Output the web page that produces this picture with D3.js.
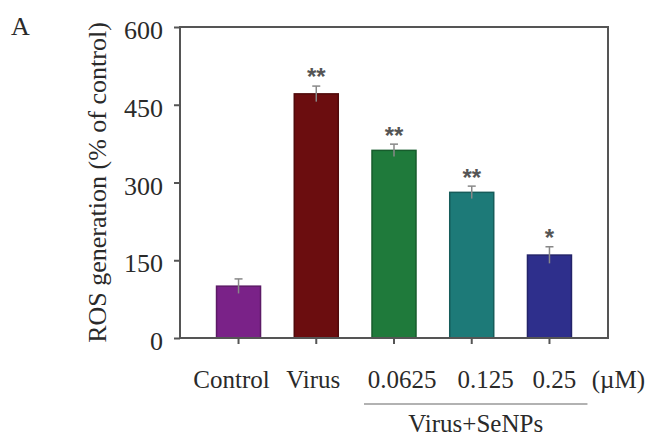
<!DOCTYPE html>
<html>
<head>
<meta charset="utf-8">
<script src="https://cdn.jsdelivr.net/npm/d3@7"></script>
<style>
  body { margin: 0; background: #fff; }
  svg { display: block; font-family: "Liberation Serif", "Times New Roman", serif; }
</style>
</head>
<body>
<div id="chart"></div>
<script>
// data
const groups = ['Control', 'Virus', '0.0625', '0.125', '0.25'];
const rosValues = [100, 471, 362, 281, 160];
const rosErrors = [14, 15, 12, 12, 16];
const significance = ['', '**', '**', '**', '*'];
const yTicks = [0, 150, 300, 450, 600];
const barColors = ['#7a2288', '#6b0d0f', '#1f7a3b', '#1d7a78', '#2e2f8c'];

const width = 648;
const height = 440;
const marginTop = 27;
const marginRight = 40;
const marginBottom = 102;
const marginLeft = 180;

// small nudges so labels sit like in the original
const labelNudge = { 'Control': -7, 'Virus': -3, '0.0625': 8, '0.125': 14, '0.25': 5 };

const svg = d3.select('#chart')
  .append('svg')
  .attr('width', width)
  .attr('height', height)
  .attr('viewBox', `0 0 ${width} ${height}`);

const x = d3.scaleBand()
  .domain(groups)
  .range([marginLeft, width - marginRight])
  .paddingInner(0.434)
  .paddingOuter(0.47);

const y = d3.scaleLinear()
  .domain([0, 600])
  .range([height - marginBottom, marginTop]);

const axisColor = '#555';
const textColor = '#2a2a2a';

// bars
svg.append('g')
  .selectAll('rect')
  .data(groups)
  .join('rect')
  .attr('x', d => x(d))
  .attr('y', (d, i) => y(rosValues[i]))
  .attr('width', x.bandwidth())
  .attr('height', (d, i) => y(0) - y(rosValues[i]))
  .attr('fill', (d, i) => barColors[i])
  .attr('stroke', (d, i) => d3.color(barColors[i]).darker(0.8))
  .attr('stroke-width', 1.5);

// error bars (upper)
const err = svg.append('g')
  .attr('stroke', '#888')
  .attr('stroke-width', 1.5);

err.selectAll('line.v')
  .data(groups)
  .join('line')
  .attr('class', 'v')
  .attr('x1', d => x(d) + x.bandwidth() / 2)
  .attr('x2', d => x(d) + x.bandwidth() / 2)
  .attr('y1', (d, i) => y(rosValues[i] - rosErrors[i]))
  .attr('y2', (d, i) => y(rosValues[i] + rosErrors[i]));

err.selectAll('line.cap')
  .data(groups)
  .join('line')
  .attr('class', 'cap')
  .attr('x1', d => x(d) + x.bandwidth() / 2 - 4)
  .attr('x2', d => x(d) + x.bandwidth() / 2 + 4)
  .attr('y1', (d, i) => y(rosValues[i] + rosErrors[i]))
  .attr('y2', (d, i) => y(rosValues[i] + rosErrors[i]));

// significance stars
svg.append('g')
  .selectAll('text')
  .data(groups)
  .join('text')
  .attr('x', d => x(d) + x.bandwidth() / 2)
  .attr('y', (d, i) => y(rosValues[i] + rosErrors[i]) - 3)
  .attr('text-anchor', 'middle')
  .attr('font-family', '"Liberation Sans", Arial, sans-serif')
  .attr('font-weight', 'bold')
  .attr('font-size', 24)
  .attr('fill', '#555')
  .attr('dy', '0.1em')
  .text((d, i) => significance[i]);

// frame
svg.append('rect')
  .attr('x', marginLeft)
  .attr('y', marginTop)
  .attr('width', width - marginLeft - marginRight)
  .attr('height', height - marginTop - marginBottom)
  .attr('fill', 'none')
  .attr('stroke', axisColor)
  .attr('stroke-width', 2);

// y axis
svg.append('g')
  .attr('transform', `translate(${marginLeft},0)`)
  .call(d3.axisLeft(y).tickValues(yTicks).tickSize(6).tickSizeOuter(0).tickPadding(11))
  .call(g => g.select('.domain').remove())
  .call(g => g.selectAll('.tick line').attr('stroke', axisColor).attr('stroke-width', 2))
  .call(g => g.selectAll('.tick text')
    .attr('font-family', '"Liberation Serif", "Times New Roman", serif')
    .attr('font-size', 26)
    .attr('fill', textColor)
    .attr('dy', '0.45em'));

// x axis
svg.append('g')
  .attr('transform', `translate(0,${height - marginBottom})`)
  .call(d3.axisBottom(x).tickSize(6).tickSizeOuter(0))
  .call(g => g.select('.domain').remove())
  .call(g => g.selectAll('.tick line').attr('stroke', axisColor).attr('stroke-width', 2))
  .call(g => g.selectAll('.tick text')
    .attr('font-family', '"Liberation Serif", "Times New Roman", serif')
    .attr('font-size', 25)
    .attr('fill', textColor)
    .attr('y', 50)
    .attr('dy', 0)
    .attr('dx', d => labelNudge[d] || 0));

// unit label
svg.append('text')
  .attr('x', width - 3)
  .attr('y', height - marginBottom + 50)
  .attr('text-anchor', 'end')
  .attr('font-size', 25)
  .attr('fill', textColor)
  .text('(\u00b5M)');

// group bracket for Virus+SeNPs
const gx0 = x('0.0625') - 8;
const gx1 = x('0.25') + x.bandwidth() + 16;
svg.append('line')
  .attr('x1', gx0)
  .attr('x2', gx1)
  .attr('y1', height - marginBottom + 66)
  .attr('y2', height - marginBottom + 66)
  .attr('stroke', '#999')
  .attr('stroke-width', 1.5);

svg.append('text')
  .attr('x', (gx0 + gx1) / 2)
  .attr('y', height - marginBottom + 94)
  .attr('text-anchor', 'middle')
  .attr('font-size', 25)
  .attr('fill', textColor)
  .text('Virus+SeNPs');

// y label
svg.append('text')
  .attr('transform', `translate(97,${(marginTop + height - marginBottom) / 2}) rotate(-90)`)
  .attr('text-anchor', 'middle')
  .attr('dominant-baseline', 'central')
  .attr('font-size', 26)
  .attr('fill', textColor)
  .text('ROS generation (% of control)');

// panel letter
svg.append('text')
  .attr('x', 11)
  .attr('y', 35)
  .attr('font-size', 26)
  .attr('fill', textColor)
  .text('A');
</script>
</body>
</html>
